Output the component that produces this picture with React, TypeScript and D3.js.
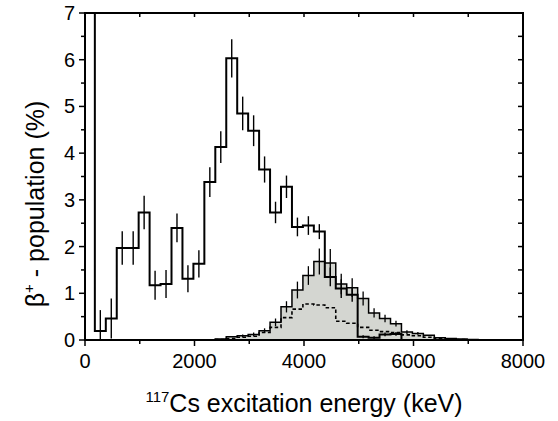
import React from "react";
import * as d3 from "d3";

// Bin edges (keV); bin i spans edges[i]..edges[i+1]
const edges = [0, 180, 380, 580, 780, 980, 1180, 1380, 1580, 1780, 1980, 2180, 2380, 2580, 2780, 2980, 3180, 3380, 3580, 3780, 3980, 4180, 4380, 4580, 4780, 4980, 5180, 5380, 5580, 5780, 5980, 6180, 6380, 6580, 6780, 6980, 7180];

// Measured beta+ population (%), first bin off-scale (ground state)
const measured = [40, 0.19, 0.46, 1.97, 1.97, 2.73, 1.17, 1.2, 2.4, 1.31, 1.63, 3.38, 4.13, 6.03, 4.85, 4.48, 3.65, 2.73, 3.28, 2.42, 2.45, 2.32, 1.35, 1.1, 0.97, 0.07, 0.05, 0.12, 0.13, 0, 0, 0, 0, 0, 0, 0];
const measuredErr = [0, 0.45, 0.43, 0.36, 0.36, 0.36, 0.31, 0.3, 0.31, 0.29, 0.29, 0.32, 0.34, 0.41, 0.36, 0.33, 0.28, 0.23, 0.24, 0.2, 0.2, 0.16, 0.2, 0.2, 0.15, 0.03, 0.03, 0.04, 0.04, 0, 0, 0, 0, 0, 0, 0];

// Shaded distribution
const shaded = [0, 0, 0, 0, 0, 0, 0, 0, 0, 0, 0, 0, 0.02, 0.07, 0.09, 0.12, 0.2, 0.38, 0.71, 1.07, 1.38, 1.68, 1.65, 1.2, 1.12, 0.89, 0.58, 0.46, 0.35, 0.17, 0.14, 0.1, 0.05, 0.03, 0.02, 0.01];
const shadedErr = [0, 0, 0, 0, 0, 0, 0, 0, 0, 0, 0, 0, 0.01, 0.02, 0.03, 0.04, 0.05, 0.08, 0.12, 0.18, 0.2, 0.28, 0.3, 0.22, 0.2, 0.15, 0.1, 0.08, 0.06, 0.04, 0.03, 0.02, 0.01, 0, 0, 0];

// Dashed distribution
const dashed = [0, 0, 0, 0, 0, 0, 0, 0, 0, 0, 0, 0, 0.01, 0.03, 0.06, 0.08, 0.16, 0.27, 0.48, 0.66, 0.77, 0.75, 0.69, 0.4, 0.36, 0.27, 0.21, 0.18, 0.16, 0.11, 0.09, 0.06, 0.03, 0.02, 0.01, 0];

const xMajor = [0, 2000, 4000, 6000, 8000];
const xMinor = [0, 1000, 2000, 3000, 4000, 5000, 6000, 7000, 8000];
const yMajor = [0, 1, 2, 3, 4, 5, 6, 7];
const yMinor = [0, 0.5, 1, 1.5, 2, 2.5, 3, 3.5, 4, 4.5, 5, 5.5, 6, 6.5, 7];

const FONT = "'Liberation Sans', Arial, Helvetica, sans-serif";

export default function App() {
  const L = 85, R = 523, T = 13, B = 340;
  const x = d3.scaleLinear().domain([0, 8000]).range([L, R]);
  const y = d3.scaleLinear().domain([0, 7]).range([B, T]);

  const line = d3.line<[number, number]>().x(d => x(d[0])).y(d => y(d[1]));
  const area = d3.area<[number, number]>().x(d => x(d[0])).y0(y(0)).y1(d => y(d[1]));

  const firstNonZero = (vals: number[]) => vals.findIndex(v => v > 0);
  const lastNonZero = (vals: number[]) => {
    let k = vals.length - 1;
    while (k > 0 && vals[k] === 0) k--;
    return k;
  };
  const trimmed = (vals: number[]) => {
    const a = firstNonZero(vals), b = lastNonZero(vals);
    const pts: [number, number][] = [[edges[a], 0]];
    for (let i = a; i <= b; i++) {
      pts.push([edges[i], vals[i]]);
      pts.push([edges[i + 1], vals[i]]);
    }
    pts.push([edges[b + 1], 0]);
    return pts;
  };

  const shadedPts = trimmed(shaded);
  const dashedPts = trimmed(dashed);
  const mainPts = trimmed(measured);

  const center = (i: number) => (edges[i] + edges[i + 1]) / 2;

  return (
    <svg width={558} height={421} style={{ display: "block", position: "absolute", left: 0, top: 0, background: "#fff" }} fontFamily={FONT}>
      <defs>
        <clipPath id="plotclip">
          <rect x={L} y={T} width={R - L} height={B - T} />
        </clipPath>
      </defs>
      <g clipPath="url(#plotclip)">
        <path d={area(shadedPts) || ""} fill="#d4d6d1" stroke="none" />
        <path d={line(dashedPts) || ""} fill="none" stroke="#000" strokeWidth={1.6} strokeDasharray="3.5,2.5" />
        <path d={line(shadedPts) || ""} fill="none" stroke="#000" strokeWidth={1.5} />
        {shaded.map((v, i) =>
          shadedErr[i] > 0.02 ? (
            <line key={"se" + i} x1={x(center(i))} x2={x(center(i))} y1={y(v + shadedErr[i])} y2={y(Math.max(0, v - shadedErr[i]))} stroke="#000" strokeWidth={1.3} />
          ) : null
        )}
        <path d={line(mainPts) || ""} fill="none" stroke="#000" strokeWidth={2} />
        {measured.map((v, i) =>
          measuredErr[i] > 0.02 ? (
            <line key={"me" + i} x1={x(center(i))} x2={x(center(i))} y1={y(v + measuredErr[i])} y2={y(Math.max(0, v - measuredErr[i]))} stroke="#000" strokeWidth={1.4} />
          ) : null
        )}
      </g>

      {/* frame */}
      <rect x={L} y={T} width={R - L} height={B - T} fill="none" stroke="#000" strokeWidth={2} />

      {/* x ticks */}
      {xMinor.map(t => (
        <g key={"xt" + t}>
          <line x1={x(t)} x2={x(t)} y1={B} y2={B + (t % 2000 === 0 ? 6 : 4)} stroke="#000" strokeWidth={1.5} />
          <line x1={x(t)} x2={x(t)} y1={T} y2={T + 4} stroke="#000" strokeWidth={1.5} />
        </g>
      ))}
      {xMajor.map(t => (
        <text key={"xl" + t} x={x(t)} y={368} fontSize={20} textAnchor="middle" fill="#000">{t}</text>
      ))}

      {/* y ticks */}
      {yMinor.map(t => (
        <g key={"yt" + t}>
          <line x1={L - (Number.isInteger(t) ? 6 : 4)} x2={L} y1={y(t)} y2={y(t)} stroke="#000" strokeWidth={1.5} />
          <line x1={R - 5} x2={R} y1={y(t)} y2={y(t)} stroke="#000" strokeWidth={1.5} />
        </g>
      ))}
      {yMajor.map(t => (
        <text key={"yl" + t} x={75} y={y(t) + 7} fontSize={20} textAnchor="end" fill="#000">{t}</text>
      ))}

      {/* axis titles */}
      <text x={304} y={412} fontSize={25} textAnchor="middle" fill="#000">
        <tspan fontSize={15} dy={-10}>117</tspan>
        <tspan dy={10}>Cs excitation energy (keV)</tspan>
      </text>
      <text transform={`translate(44,${204}) rotate(-90)`} fontSize={25} textAnchor="middle" fill="#000">
        <tspan>β</tspan>
        <tspan fontSize={15} dy={-10}>+</tspan>
        <tspan dy={10}> - population (%)</tspan>
      </text>
    </svg>
  );
}
